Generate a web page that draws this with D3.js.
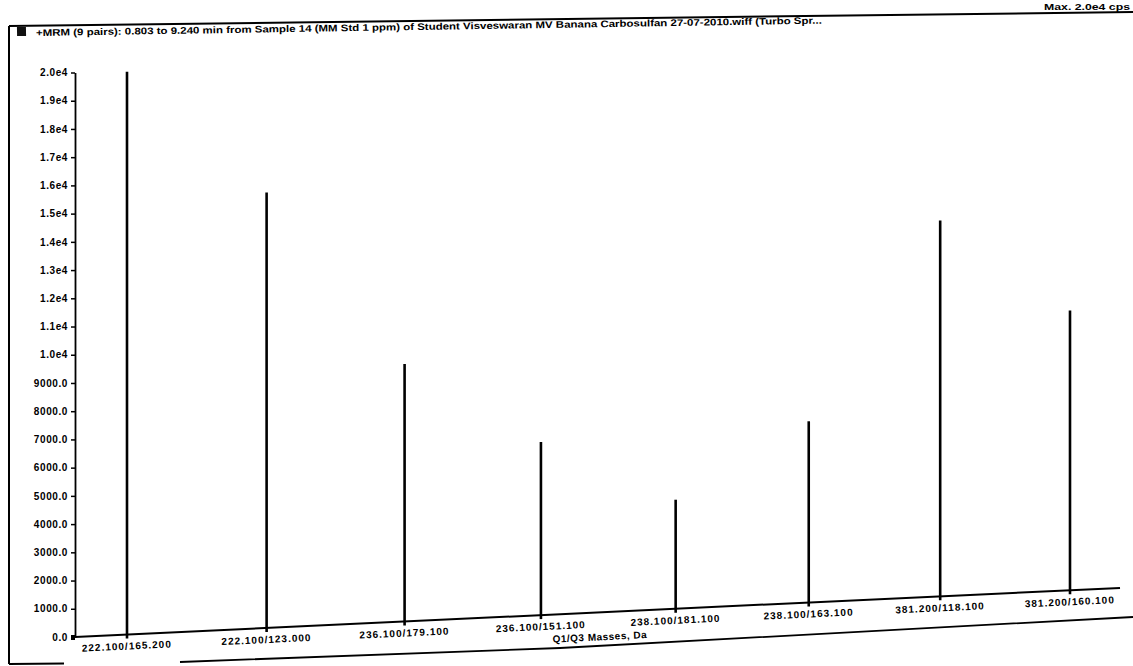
<!DOCTYPE html>
<html>
<head>
<meta charset="utf-8">
<script src="https://cdn.jsdelivr.net/npm/d3@7"></script>
<style>
  body { margin: 0; background: #fff; }
  svg { display: block; font-family: "Liberation Sans", Arial, sans-serif; font-weight: bold; }
</style>
</head>
<body>
<svg id="chart" width="1133" height="666"></svg>
<script>
// MRM transitions (Q1/Q3) and their max intensity, cps
const transitions = [
  "222.100/165.200", "222.100/123.000", "236.100/179.100", "236.100/151.100",
  "238.100/181.100", "238.100/163.100", "381.200/118.100", "381.200/160.100"
];
const intensities = [20000, 15600, 9300, 6300, 4000, 6700, 14000, 10500];
const yTickValues = d3.range(0, 20001, 1000);

const titleText = "+MRM (9 pairs): 0.803 to 9.240 min from Sample 14 (MM Std 1 ppm) of Student Visveswaran MV Banana  Carbosulfan 27-07-2010.wiff (Turbo Spr...";
const maxText = "Max. 2.0e4 cps";
const xTitle = "Q1/Q3 Masses, Da";

const svg = d3.select('#chart');
svg.append('rect').attr('width', 1133).attr('height', 666).attr('fill', '#fff');

// the printout was scanned crooked: baseline and top line are not level
const axisX = 75;
const baseY = px => 637 - 0.047 * (px - axisX);
const topY = px => 72.5 - 0.015 * (px - axisX);
const tilt = Math.atan(-0.047) * 180 / Math.PI;

const y = d3.scaleLinear().domain([0, 20000]).range([0, 1]);
const warpY = (px, v) => baseY(px) + (topY(px) - baseY(px)) * y(v);

const xs = d3.scalePoint().domain(transitions).range([127, 1070]);
// a little perspective squeeze across the page
const barX = name => {
  const p = xs(name);
  const t = (p - 127) / 943;
  return p + 40 * t * (1 - t);
};

// frame
const frame = svg.append('g').attr('fill', 'none').attr('stroke', '#000');
frame.append('path').attr('d', 'M9,26 L1133,12').attr('stroke-width', 2);
frame.append('path').attr('d', 'M9,26 L9,664').attr('stroke-width', 2);
frame.append('path').attr('d', 'M9,664 L64,663.5').attr('stroke-width', 1.8);
frame.append('path').attr('d', 'M180,662 L560,648 L1133,617').attr('stroke-width', 1.8);

svg.append('rect')
  .attr('x', 17).attr('y', 27).attr('width', 9).attr('height', 9)
  .attr('fill', '#111').attr('transform', 'rotate(-1,21,31)');

svg.append('text')
  .attr('x', 36).attr('y', 36)
  .attr('font-size', 9.5)
  .attr('textLength', 786)
  .attr('lengthAdjust', 'spacingAndGlyphs')
  .attr('transform', 'rotate(-0.9,36,36)')
  .text(titleText);

svg.append('text')
  .attr('x', 1130).attr('y', 9.5)
  .attr('font-size', 9.5)
  .attr('text-anchor', 'end')
  .attr('textLength', 86)
  .attr('lengthAdjust', 'spacingAndGlyphs')
  .text(maxText);

// y axis (nearly vertical at the left edge)
const yAxisScale = d3.scaleLinear().domain([0, 20000]).range([baseY(axisX), topY(axisX)]);
const yAxis = d3.axisLeft(yAxisScale)
  .tickValues(yTickValues)
  .tickSizeInner(4)
  .tickSizeOuter(0)
  .tickPadding(3)
  .tickFormat(v => v >= 10000 ? (v / 10000).toFixed(1) + 'e4' : v.toFixed(1));

const yg = svg.append('g').attr('transform', `translate(${axisX},0)`).call(yAxis);
yg.select('.domain').attr('stroke', '#000').attr('stroke-width', 1.8);
yg.selectAll('.tick line')
  .attr('stroke', '#000')
  .attr('stroke-width', d => d === 0 ? 5 : 1.5);
yg.selectAll('.tick text')
  .attr('fill', '#000')
  .attr('font-size', 10)
  .attr('font-family', '"Liberation Sans", Arial, sans-serif')
  .attr('font-weight', 'bold')
  .style('letter-spacing', '0.6px');

// x axis along the tilted baseline
svg.append('line')
  .attr('x1', axisX).attr('y1', baseY(axisX))
  .attr('x2', 1120).attr('y2', baseY(1120))
  .attr('stroke', '#000').attr('stroke-width', 2);

// sticks
svg.append('g').selectAll('line')
  .data(transitions)
  .join('line')
  .attr('x1', d => barX(d))
  .attr('x2', d => barX(d))
  .attr('y1', d => baseY(barX(d)) + 4)
  .attr('y2', (d, i) => warpY(barX(d), intensities[i]))
  .attr('stroke', '#000')
  .attr('stroke-width', 2.6);

svg.append('g').selectAll('text')
  .data(transitions)
  .join('text')
  .attr('x', d => barX(d))
  .attr('y', d => baseY(barX(d)) + 15)
  .attr('text-anchor', 'middle')
  .attr('font-size', 10)
  .style('letter-spacing', '1px')
  .attr('transform', d => `rotate(${tilt},${barX(d)},${baseY(barX(d)) + 15})`)
  .text(d => d);

svg.append('text')
  .attr('x', 600).attr('y', baseY(600) + 28)
  .attr('text-anchor', 'middle')
  .attr('font-size', 10)
  .style('letter-spacing', '0.5px')
  .attr('transform', `rotate(${tilt},600,${baseY(600) + 28})`)
  .text(xTitle);
</script>
</body>
</html>
